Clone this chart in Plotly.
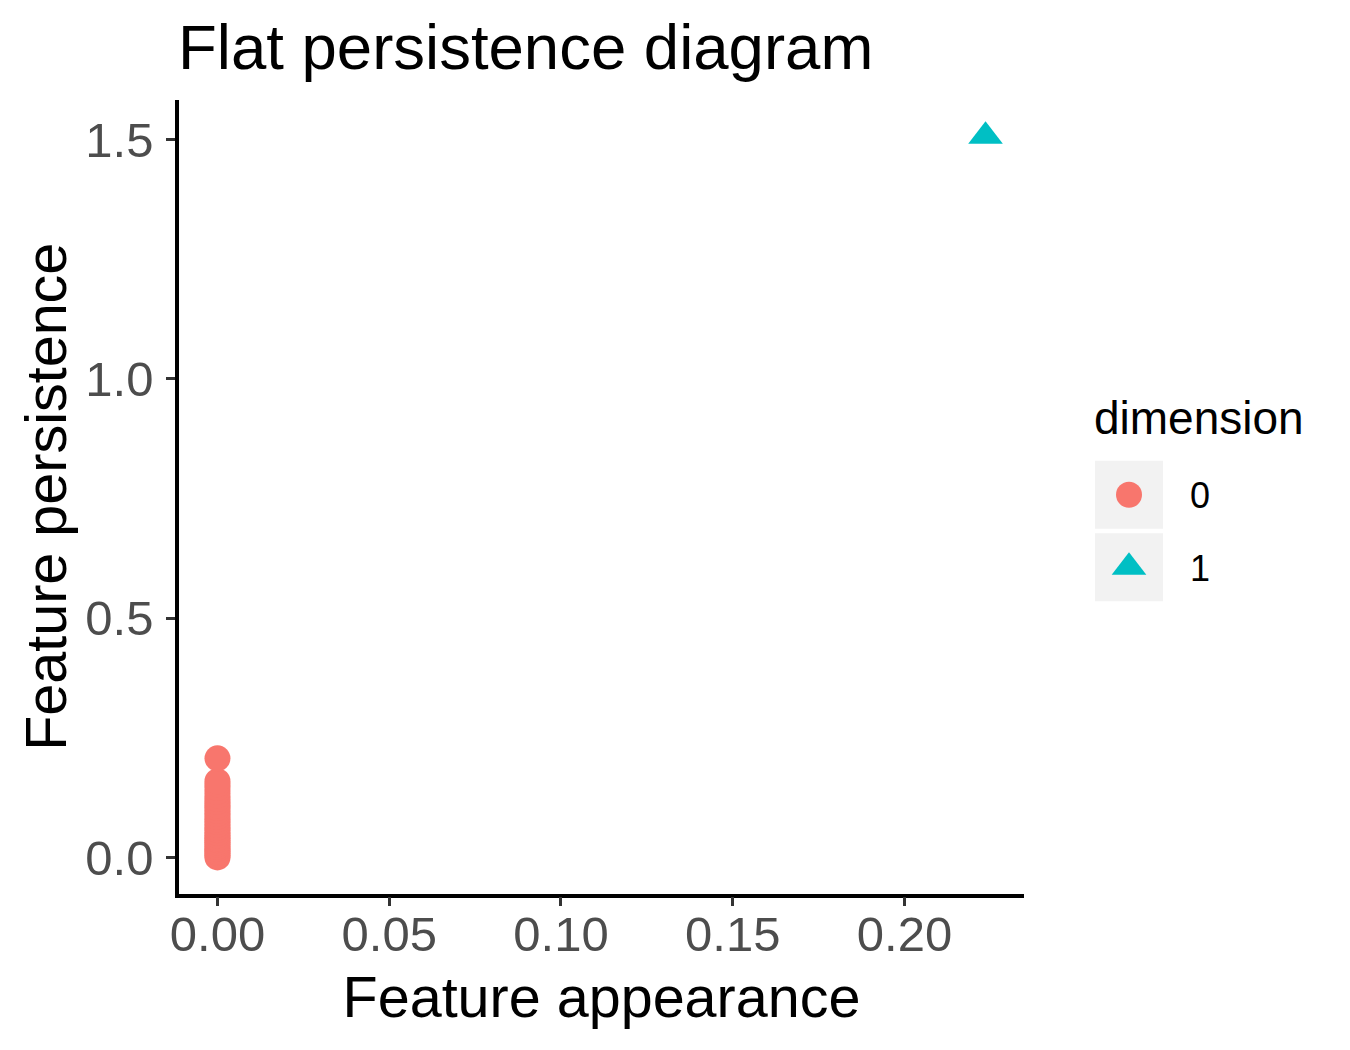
import plotly.graph_objects as go

# ---- data ----
dimension_labels = ["0", "1"]
dim0_birth = [0.0] * 30
dim0_persistence = [0.0, 0.004, 0.009, 0.013, 0.018, 0.022, 0.027, 0.031, 0.036, 0.040,
                    0.046, 0.051, 0.057, 0.062, 0.068, 0.074, 0.079, 0.085, 0.091, 0.097,
                    0.103, 0.109, 0.116, 0.122, 0.129, 0.137, 0.145, 0.152, 0.159, 0.207]
dim1_birth = [0.2236]
dim1_persistence = [1.507]

x_ticks = [0.00, 0.05, 0.10, 0.15, 0.20]
x_tick_labels = ["0.00", "0.05", "0.10", "0.15", "0.20"]
y_ticks = [0.0, 0.5, 1.0, 1.5]
y_tick_labels = ["0.0", "0.5", "1.0", "1.5"]

colors = ["#F8766D", "#00BFC4"]
symbols = ["circle", "triangle-up"]
sizes = [26, 30]

W, H = 1350, 1050
FONT = "Liberation Sans, Arial, sans-serif"

def px_x(p):
    return p / W

def px_y(p):
    return 1 - p / H

fig = go.Figure()

series = [(dim0_birth, dim0_persistence), (dim1_birth, dim1_persistence)]
for i, (bx, py) in enumerate(series):
    fig.add_trace(go.Scatter(
        x=bx, y=py, mode="markers", name=dimension_labels[i],
        marker=dict(color=colors[i], symbol=symbols[i], size=sizes[i], line=dict(width=0)),
        showlegend=False, cliponaxis=False,
    ))

# ---- manual legend (ggplot style keys) ----
for i, lab in enumerate(dimension_labels):
    fig.add_trace(go.Scatter(
        x=[0.5], y=[i], mode="markers", xaxis="x2", yaxis="y2",
        marker=dict(color=colors[i], symbol=symbols[i], size=sizes[i], line=dict(width=0)),
        showlegend=False, hoverinfo="skip", cliponaxis=False,
    ))
    fig.add_shape(type="rect", xref="x2", yref="y2", x0=0, x1=1,
                  y0=i - 0.469, y1=i + 0.469, fillcolor="#F2F2F2",
                  line=dict(width=0), layer="below")
    fig.add_annotation(text=lab, xref="paper", yref="paper",
                       x=px_x(1187.5), y=px_y(496 + 72.5 * i),
                       xanchor="left", yanchor="middle", showarrow=False,
                       font=dict(family=FONT, size=36, color="black"))

fig.add_annotation(text="dimension", xref="paper", yref="paper",
                   x=px_x(1092), y=px_y(418), xanchor="left", yanchor="middle",
                   showarrow=False, font=dict(family=FONT, size=46, color="black"))

axis_common = dict(
    showgrid=False, zeroline=False, showline=True, linecolor="black", linewidth=3.5,
    ticks="outside", ticklen=9, tickwidth=3, tickcolor="#333333",
    tickfont=dict(family=FONT, size=49, color="#4D4D4D"),
    title_font=dict(family=FONT, size=57.5, color="black"),
    automargin=False,
)

fig.update_layout(
    width=W, height=H,
    margin=dict(l=0, r=0, t=0, b=0),
    paper_bgcolor="white", plot_bgcolor="white",
    showlegend=False,
    title=dict(text="Flat persistence diagram", x=px_x(178), xanchor="left",
               xref="paper", yref="container", y=px_y(47), yanchor="middle",
               font=dict(family=FONT, size=63.5, color="black")),
    xaxis=dict(axis_common, domain=[px_x(179), px_x(1024)],
               range=[-0.0112, 0.2348], tickvals=x_ticks, ticktext=x_tick_labels,
               title=dict(text="Feature appearance", standoff=18),
               ticklabelstandoff=-14),
    yaxis=dict(axis_common, domain=[px_y(893.5), px_y(100)],
               range=[-0.0754, 1.5825], tickvals=y_ticks, ticktext=y_tick_labels,
               title=dict(text="Feature persistence", standoff=1),
               ticklabelstandoff=3),
    xaxis2=dict(domain=[px_x(1095), px_x(1163)], range=[0, 1], visible=False,
                anchor="y2", fixedrange=True),
    yaxis2=dict(domain=[px_y(603.5), px_y(458.5)], range=[1.5, -0.5], visible=False,
                anchor="x2", fixedrange=True),
)

fig.write_html("out.html")
